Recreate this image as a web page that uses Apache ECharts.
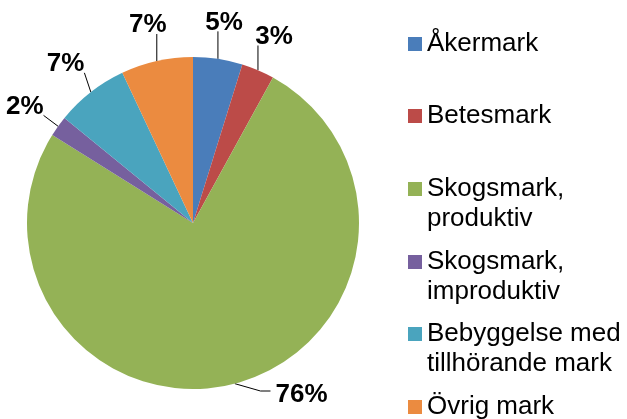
<!DOCTYPE html>
<html>
<head>
    <meta charset="utf-8">
    <title>Markanvändning</title>
    <script src="https://cdn.jsdelivr.net/npm/echarts/dist/echarts.min.js"></script>
</head>
<body style="margin:0;background:#fff">
    <div id="main" style="width: 627px;height:419px;"></div>
    <script>
        // data (share of total area, %)
        var categories = ['Åkermark', 'Betesmark', 'Skogsmark, produktiv', 'Skogsmark, improduktiv',
            'Bebyggelse med tillhörande mark', 'Övrig mark'];
        var legendText = ['Åkermark', 'Betesmark', 'Skogsmark,\nproduktiv', 'Skogsmark,\nimproduktiv',
            'Bebyggelse med\ntillhörande mark', 'Övrig mark'];
        var values = [4.8, 3.2, 75.9, 2.0, 7.1, 7.0];

        var colors = ['#4A7DBA', '#BC4B48', '#94B256', '#76609E', '#4AA4BE', '#EB8B40'];
        // vertical centre of each legend marker
        var legendRows = [44, 116, 189, 262, 334, 407];

        var CX = 193, CY = 223, R = 166;
        var LABEL_DIST = 207, LABEL_DIST_SLID = 200, LABEL_BOTTOM = 404;
        var TEXT_DY = 4; // glyphs sit a little high in their box

        var myChart = echarts.init(document.getElementById('main'));

        // mid angle of every slice, clockwise from 12 o'clock
        var total = values.reduce(function (a, b) { return a + b; }, 0);
        var midAngles = [];
        var acc = 0;
        values.forEach(function (v) {
            midAngles.push((acc + v / 2) / total * Math.PI * 2);
            acc += v;
        });

        // excel-like placement: label centred outside the rim on the slice's mid angle
        function labelLayout(p) {
            var th = midAngles[p.dataIndex];
            var w = p.labelRect.width, h = p.labelRect.height;
            var ex = CX + R * Math.sin(th), ey = CY - R * Math.cos(th);
            var cx = CX + LABEL_DIST * Math.sin(th), cy = CY - LABEL_DIST * Math.cos(th);
            var slid = false;
            if (cy + h / 2 > LABEL_BOTTOM) {
                // slide along the circle until it fits above the bottom edge
                var phi = Math.acos((LABEL_BOTTOM - h / 2 - CY) / LABEL_DIST_SLID);
                var side = Math.sin(th) >= 0 ? 1 : -1;
                cx = CX + side * LABEL_DIST_SLID * Math.sin(phi);
                cy = LABEL_BOTTOM - h / 2;
                slid = true;
            }
            var left = cx - w / 2, top = cy - h / 2;
            var pts;
            if (slid) {
                var sx = ex < cx ? left - 5 : left + w + 5;
                var dir = ex < cx ? -1 : 1;
                pts = [[ex, ey], [sx + dir * 10, cy], [sx, cy]];
            } else {
                var lx = Math.min(Math.max(ex, left), left + w);
                var ly = Math.min(Math.max(ey, top), top + h);
                pts = [[ex, ey], [lx, ly]];
            }
            return {
                x: cx,
                y: cy + TEXT_DY,
                align: 'center',
                verticalAlign: 'middle',
                labelLinePoints: pts
            };
        }

        var legends = categories.map(function (name, i) {
            var twoLines = legendText[i].indexOf('\n') >= 0;
            return {
                orient: 'vertical',
                left: 408,
                top: legendRows[i] - (twoLines ? 45 : 15),
                padding: 0,
                itemWidth: 14,
                itemHeight: 14,
                icon: 'rect',
                selectedMode: false,
                data: [name],
                formatter: function () {
                    if (!twoLines) return legendText[i];
                    return legendText[i].split('\n').map(function (s) { return '{t|' + s + '}'; }).join('\n');
                },
                textStyle: {
                    fontFamily: 'Liberation Sans, Arial',
                    fontSize: 26,
                    lineHeight: 30,
                    color: '#000',
                    padding: twoLines ? [30, 0, 0, 0] : 0,
                    rich: {
                        t: { fontFamily: 'Liberation Sans, Arial', fontSize: 26, lineHeight: 30, color: '#000' }
                    }
                }
            };
        });

        var option = {
            color: colors,
            animation: false,
            legend: legends,
            series: [{
                type: 'pie',
                center: [CX, CY],
                radius: R,
                startAngle: 90,
                clockwise: true,
                avoidLabelOverlap: false,
                label: {
                    position: 'outside',
                    overflow: 'none',
                    fontFamily: 'Liberation Sans, Arial',
                    fontSize: 26,
                    lineHeight: 20,
                    fontWeight: 'bold',
                    color: '#000',
                    formatter: function (p) { return Math.round(p.value) + '%'; }
                },
                labelLine: {
                    show: true,
                    length: 14,
                    length2: 8,
                    lineStyle: { color: '#000', width: 1 }
                },
                labelLayout: labelLayout,
                itemStyle: { borderWidth: 0 },
                emphasis: { disabled: true },
                data: categories.map(function (c, i) {
                    return { name: c, value: values[i] };
                })
            }]
        };

        myChart.setOption(option);
    </script>
</body>
</html>
